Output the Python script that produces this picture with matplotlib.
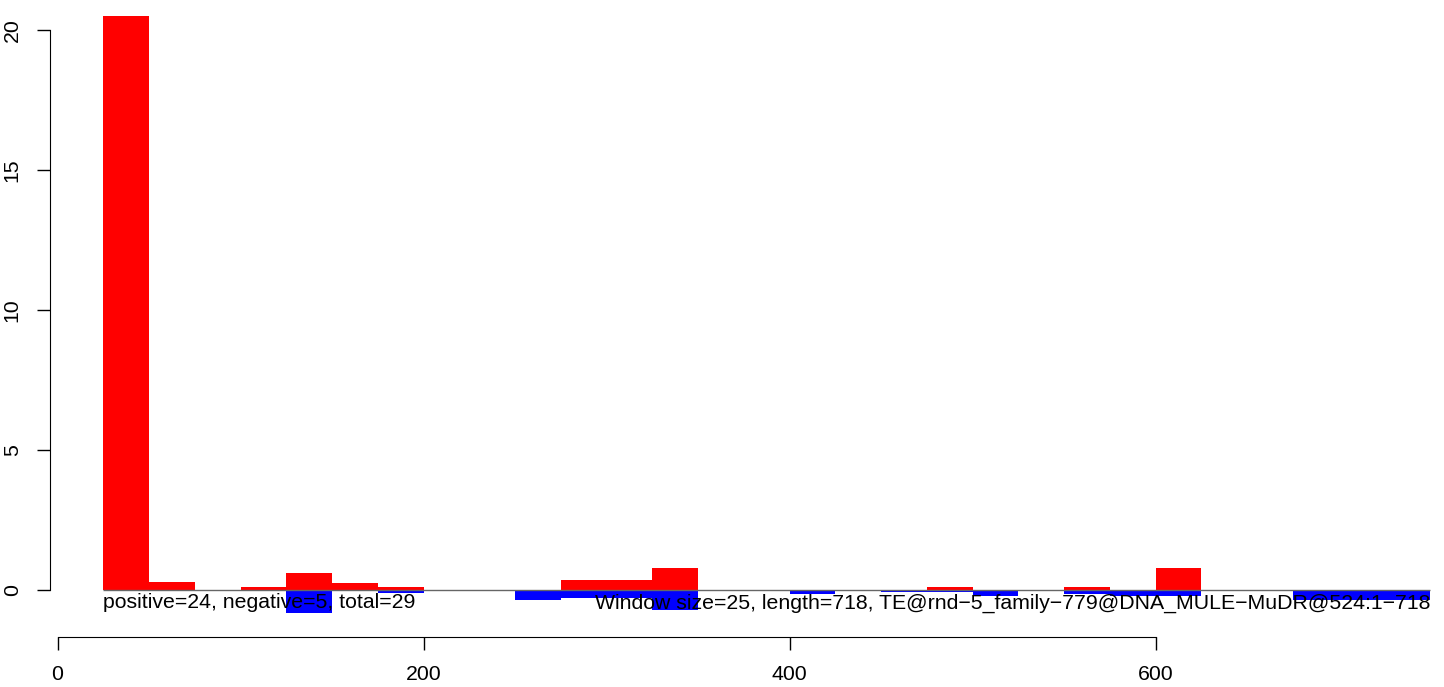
import numpy as np
import matplotlib
matplotlib.use("Agg")
import matplotlib.pyplot as plt

plt.rcParams['font.family'] = ['Liberation Sans', 'DejaVu Sans']

# window start positions (window size 25)
win_start = np.arange(25, 750, 25)
pos_vals = [20.5, 0.3, 0, 0.1, 0.6, 0.24, 0.1, 0, 0, 0,
            0.37, 0.37, 0.8, 0, 0, 0, 0, 0, 0.1, 0,
            0, 0.1, 0, 0.8, 0, 0, 0, 0, 0]
neg_vals = [0, 0, 0, 0, 0.83, 0, 0.1, 0, 0, 0.36,
            0.29, 0.29, 0.71, 0, 0, 0.14, 0, 0.07, 0.07, 0.2,
            0, 0.13, 0.21, 0.21, 0, 0, 0.34, 0.34, 0.34]
xticks = [0, 200, 400, 600]
yticks = [0, 5, 10, 15, 20]
left_text = "positive=24, negative=5, total=29"
right_text = "Window size=25, length=718, TE@rnd\u22125_family\u2212779@DNA_MULE\u2212MuDR@524:1\u2212718"

W, H = 1444, 687
fig = plt.figure(figsize=(W / 100, H / 100), dpi=100)
ax = fig.add_axes([50 / W, (H - 637) / H, (W - 50) / W, 637 / H])

ax.bar(win_start, pos_vals, width=25, align='edge', color='#ff0000', linewidth=0)
ax.bar(win_start, -np.array(neg_vals), width=25, align='edge', color='#0000ff', linewidth=0)
ax.hlines(0, 25, 750, color='#666666', linewidth=1)

ax.text(25, -0.66, left_text, ha='left', va='baseline', fontsize=15.3)
ax.text(750, -0.66, right_text, ha='right', va='baseline', fontsize=15.3)

# pixel mapping: x=0 at 57.5px, 1.83 px/unit; y=0 at 590px, 28 px/unit
ax.set_xlim((50 - 57.5) / 1.83, (W - 57.5) / 1.83)
ax.set_ylim(-(637 - 590) / 28, 590 / 28)

for s in ['top', 'right']:
    ax.spines[s].set_visible(False)
ax.spines['left'].set_bounds(0, 20)
ax.spines['bottom'].set_bounds(0, 600)
ax.set_xticks(xticks)
ax.set_yticks(yticks)
ax.tick_params(direction='out', length=9.4, width=1, labelsize=15.3)
ax.tick_params(axis='x', pad=11)
ax.tick_params(axis='y', pad=11)
plt.setp(ax.get_yticklabels(), rotation=90, va='center')

fig.savefig('out.png', dpi=100)
